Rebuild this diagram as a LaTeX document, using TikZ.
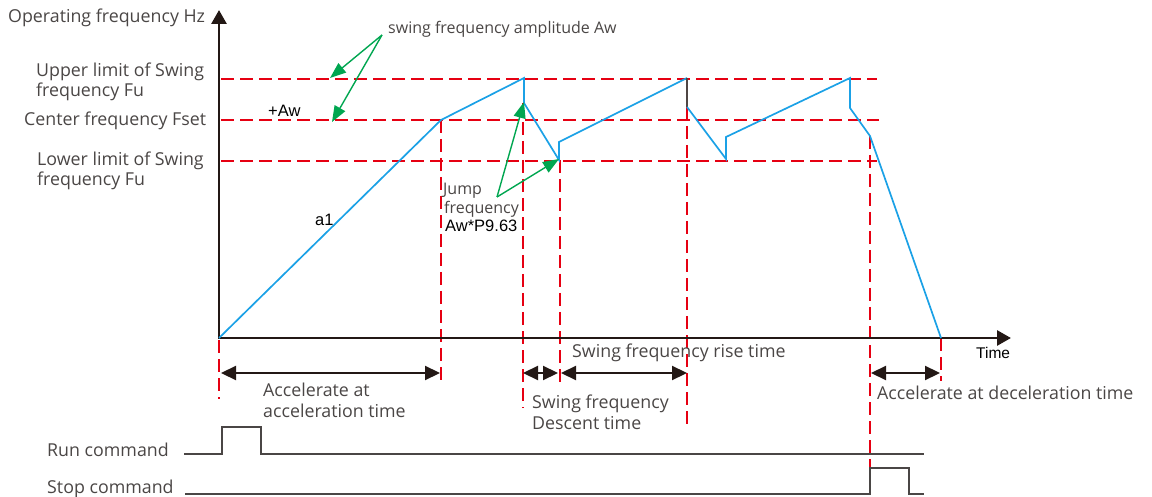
\documentclass[tikz,border=0pt]{standalone}
\usepackage{fontspec}
\setmainfont{Open Sans}
\newfontfamily\arialf{Liberation Sans}
\usetikzlibrary{arrows.meta}
\definecolor{redd}{HTML}{E60012}
\definecolor{bluec}{HTML}{1BA1E6}
\definecolor{greenc}{HTML}{00A650}
\definecolor{txt}{HTML}{4A4645}
\definecolor{axisc}{HTML}{231815}
\begin{document}
\begin{tikzpicture}[x=1pt,y=-1pt,
  lbl/.style={anchor=base west, inner sep=0pt, text=txt, font=\fontsize{17.8}{20}\selectfont},
  slbl/.style={lbl, font=\fontsize{16}{19}\selectfont},
  alb/.style={anchor=base west, inner sep=0pt, text=black, font=\arialf\fontsize{16.5}{19}\selectfont},
  guide/.style={redd, line width=2.8pt, dash pattern=on 13pt off 6pt},
  curve/.style={bluec, line width=1.7pt, line join=miter},
  axis/.style={axisc, line width=2.8pt, {Triangle[length=14pt,width=15pt]}-{Triangle[length=14pt,width=15pt]}},
  span/.style={axisc, line width=2.2pt, {Triangle[length=15pt,width=14pt]}-{Triangle[length=15pt,width=14pt]}},
  callout/.style={greenc, line width=1.4pt, -{Triangle[length=16pt,width=12pt]}},
  sig/.style={txt, line width=1.6pt}]
\useasboundingbox (0,0) rectangle (1152,497);

% key points
\coordinate (O) at (219,338);
\coordinate (ytip) at (219,10);
\coordinate (xtip) at (1011,338);
\coordinate (c1) at (441,120);
\coordinate (p1) at (524,78);
\coordinate (p1b) at (524,103);
\coordinate (v1) at (559,160);
\coordinate (v1b) at (559,142);
\coordinate (p2) at (687,78);
\coordinate (p2b) at (687,107);
\coordinate (v2) at (726,159);
\coordinate (v2b) at (726,137);
\coordinate (p3) at (850,78);
\coordinate (p3b) at (850,108);
\coordinate (d1) at (870,136);
\coordinate (e) at (941,338);

% horizontal guides
\coordinate (hu1) at (221,79);  \coordinate (hu2) at (877,79);
\coordinate (hc1) at (221,120); \coordinate (hc2) at (879,120);
\coordinate (hl1) at (221,161); \coordinate (hl2) at (877,161);
\draw[guide] (hu1) -- (hu2);
\draw[guide] (hc1) -- (hc2);
\draw[guide] (hl1) -- (hl2);

% vertical guides
\coordinate (g0a) at (219,340); \coordinate (g0b) at (219,399);
\coordinate (g1b) at (441,382);
\coordinate (g2a) at (523,103); \coordinate (g2b) at (523,408);
\coordinate (g3a) at (560,160); \coordinate (g3b) at (560,388);
\coordinate (g4b) at (687,429);
\coordinate (g5b) at (870,494);
\coordinate (g6b) at (941,381);
\draw[guide] (g0a) -- (g0b);
\draw[guide] (c1) -- (g1b);
\draw[guide] (g2a) -- (g2b);
\draw[guide] (g3a) -- (g3b);
\draw[guide] (p2b) -- (g4b);
\draw[guide] (d1) -- (g5b);
\draw[guide] (e) -- (g6b);

% axes
\draw[axis] (ytip) -- (O) -- (xtip);

% frequency curve
\draw[curve] (O) -- (c1) -- (p1) -- (p1b) -- (v1) -- (v1b) -- (p2);
\draw[axisc!80, line width=1.9pt] (p2) -- (p2b);
\draw[curve] (p2b) -- (v2) -- (v2b) -- (p3) -- (p3b) -- (d1) -- (e);

% time spans
\coordinate (s1a) at (221,373); \coordinate (s1b) at (440,373);
\coordinate (s2a) at (523,373); \coordinate (s2b) at (558,373);
\coordinate (s3a) at (561,373); \coordinate (s3b) at (687,373);
\coordinate (s4a) at (871,373); \coordinate (s4b) at (940,373);
\draw[span] (s1a) -- (s1b);
\draw[span] (s2a) -- (s2b);
\draw[span] (s3a) -- (s3b);
\draw[span] (s4a) -- (s4b);

% labels
\node[lbl] (opfreq) at (8,23) {Operating frequency Hz};
\node[slbl] (amp) at (388,34) {swing frequency amplitude Aw};
\node[lbl] (upA) at (36,77) {Upper limit of Swing};
\node[lbl] (upB) at (36,97) {frequency Fu};
\node[lbl] (center) at (24,126) {Center frequency Fset};
\node[lbl] (loA) at (37,166) {Lower limit of Swing};
\node[lbl] (loB) at (37,186) {frequency Fu};
\node[alb] (plusAw) at (268,117) {+Aw};
\node[alb] (aone) at (315,226) {a1};
\node[slbl] (jumpA) at (443,195) {Jump};
\node[slbl] (jumpB) at (444,214) {frequency};
\node[alb] (jumpC) at (445,232) {Aw*P9.63};
\node[lbl] (rise) at (572,357) {Swing frequency rise time};
\node[alb, font=\arialf\fontsize{15.5}{18}\selectfont] (timel) at (976,358) {Time};
\node[lbl] (accA) at (263,396) {Accelerate at};
\node[lbl] (accB) at (263,417) {acceleration time};
\node[lbl] (descA) at (532,408) {Swing frequency};
\node[lbl] (descB) at (532,429) {Descent time};
\node[lbl] (decel) at (877,399) {Accelerate at deceleration time};
\node[lbl] (run) at (47,456) {Run command};
\node[lbl] (stop) at (47,493) {Stop command};

% callouts
\coordinate (ampsrc) at (382,35);
\coordinate (tipU) at (330,78);
\coordinate (tipC) at (332,122);
\coordinate (jumpsrc) at (497,197);
\coordinate (tipJ1) at (524,102);
\coordinate (tipJ2) at (559,159);
\draw[callout] (ampsrc) -- (tipU);
\draw[callout] (ampsrc) -- (tipC);
\draw[callout] (jumpsrc) -- (tipJ1);
\draw[callout] (jumpsrc) -- (tipJ2);

% command signals
\coordinate (r0) at (184,454); \coordinate (r1) at (222,454); \coordinate (r2) at (222,427);
\coordinate (r3) at (261,427); \coordinate (r4) at (261,454); \coordinate (r5) at (924,454);
\draw[sig] (r0) -- (r1) -- (r2) -- (r3) -- (r4) -- (r5);
\coordinate (t0) at (185,494); \coordinate (t1) at (870,494); \coordinate (t2) at (870,468);
\coordinate (t3) at (909,468); \coordinate (t4) at (909,494); \coordinate (t5) at (924,494);
\draw[sig] (t0) -- (t1) -- (t2) -- (t3) -- (t4) -- (t5);
\end{tikzpicture}
\end{document}
